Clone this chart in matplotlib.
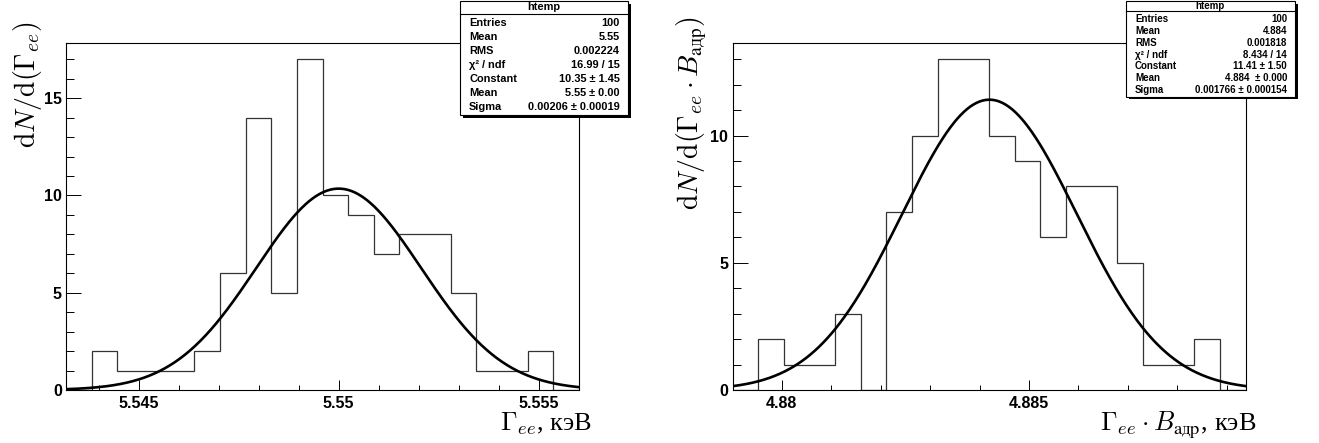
import numpy as np
import matplotlib.pyplot as plt
from matplotlib.patches import Rectangle
from matplotlib.lines import Line2D
from matplotlib.ticker import MultipleLocator

plt.rcParams['mathtext.fontset'] = 'cm'
plt.rcParams['font.family'] = ['Liberation Sans', 'DejaVu Sans']

W, H = 1319, 443

# left: Gamma_ee histogram (20 bins) + gauss fit
gee_range = (5.54318, 5.55601)
gee_counts = [0, 2, 1, 1, 1, 2, 6, 14, 5, 17, 10, 9, 7, 8, 8, 5, 1, 1, 2, 0]
gee_fit = (10.35, 5.5500, 0.00206)  # constant, mean, sigma
gee_ticks = [5.545, 5.55, 5.555]
gee_ticklabels = ['5.545', '5.55', '5.555']
gee_stats = [('Entries', '100'), ('Mean', '5.55'), ('RMS', '0.002224'),
             ('χ² / ndf', '16.99 / 15'), ('Constant', '10.35 ± 1.45'),
             ('Mean', '5.55 ± 0.00'), ('Sigma', '0.00206 ± 0.00019')]

# right: Gamma_ee * B_had
gb_range = (4.879003, 4.889379)
gb_counts = [0, 2, 1, 1, 3, 0, 7, 10, 13, 13, 10, 9, 6, 8, 8, 5, 1, 1, 2, 0]
gb_fit = (11.41, 4.8842, 0.001766)
gb_ticks = [4.88, 4.885]
gb_ticklabels = ['4.88', '4.885']
gb_stats = [('Entries', '100'), ('Mean', '4.884'), ('RMS', '0.001818'),
            ('χ² / ndf', '8.434 / 14'), ('Constant', '11.41 ± 1.50'),
            ('Mean', '4.884  ± 0.000'), ('Sigma', '0.001766 ± 0.000154')]

fig = plt.figure(figsize=(W / 100, H / 100), dpi=100)


def panel(left_px, rng, counts, fit, ticks, ticklabels):
    ax = fig.add_axes([left_px / W, 53 / H, 513 / W, 347.3 / H])
    edges = np.linspace(rng[0], rng[1], len(counts) + 1)
    ax.stairs(counts, edges, baseline=0, color='#333333', lw=0.9)
    x = np.linspace(rng[0], rng[1], 500)
    a, mu, s = fit
    ax.plot(x, a * np.exp(-0.5 * ((x - mu) / s) ** 2), color='black', lw=1.9)
    ax.set_xlim(rng)
    ax.set_ylim(0, 1.05 * max(counts))
    ax.set_xticks(ticks, ticklabels)
    ax.xaxis.set_minor_locator(MultipleLocator(0.001))
    ax.yaxis.set_major_locator(MultipleLocator(5))
    ax.yaxis.set_minor_locator(MultipleLocator(1))
    ax.tick_params(axis='y', which='major', direction='in', length=11, width=0.7, pad=3)
    ax.tick_params(axis='y', which='minor', direction='in', length=5.5, width=0.7)
    ax.tick_params(axis='x', which='major', direction='in', length=7.5, width=0.7, pad=4)
    ax.tick_params(axis='x', which='minor', direction='in', length=3.7, width=0.7)
    ax.tick_params(top=False, right=False, which='both')
    for lbl in ax.get_xticklabels() + ax.get_yticklabels():
        lbl.set_fontsize(11.5)
        lbl.set_fontweight('bold')
    for sp in ax.spines.values():
        sp.set_linewidth(0.8)
    return ax


def stat_box(x0, x1, y1, title_b, stats, size):
    y0 = 1
    fig.add_artist(Rectangle(((x0 + 2.5) / W, 1 - (y1 + 2.5) / H), (x1 - x0) / W, (y1 - y0) / H,
                             transform=fig.transFigure, facecolor='black', edgecolor='none'))
    fig.add_artist(Rectangle((x0 / W, 1 - y1 / H), (x1 - x0) / W, (y1 - y0) / H,
                             transform=fig.transFigure, facecolor='white', edgecolor='black', lw=0.8))
    fig.add_artist(Line2D([x0 / W, x1 / W], [1 - title_b / H] * 2, color='black', lw=0.8))
    fig.text((x0 + x1) / 2 / W, 1 - (y0 + title_b) / 2 / H, 'htemp', ha='center', va='center',
             fontsize=size, fontweight='bold')
    rh = (y1 - title_b - 2.5) / len(stats)
    for i, (k, v) in enumerate(stats):
        yc = 1 - (title_b + 2 + (i + 0.5) * rh) / H
        fig.text((x0 + 9) / W, yc, k, ha='left', va='center', fontsize=size, fontweight='bold')
        fig.text((x1 - 8) / W, yc, v, ha='right', va='center', fontsize=size, fontweight='bold')


ax1 = panel(66, gee_range, gee_counts, gee_fit, gee_ticks, gee_ticklabels)
ax2 = panel(732.5, gb_range, gb_counts, gb_fit, gb_ticks, gb_ticklabels)

tfont = ['Liberation Serif', 'DejaVu Serif']
fig.text(28 / W, 1 - 22 / H, r'$\mathrm{d}N/\mathrm{d}(\Gamma_{ee})$', rotation=90,
         ha='center', va='top', fontsize=20, family=tfont)
fig.text(692 / W, 1 - 16 / H, r'$\mathrm{d}N/\mathrm{d}(\Gamma_{ee}\cdot B_{\mathrm{адр}})$',
         rotation=90, ha='center', va='top', fontsize=20, family=tfont)
fig.text(592 / W, 12 / H, r'$\Gamma_{ee}$, кэВ', ha='right', va='baseline', fontsize=19, family=tfont)
fig.text(1256 / W, 12 / H, r'$\Gamma_{ee}\cdot B_{\mathrm{адр}}$, кэВ', ha='right', va='baseline',
         fontsize=19, family=tfont)

stat_box(460, 628, 115, 13.5, gee_stats, 7.9)
stat_box(1126, 1295, 96.5, 11, gb_stats, 7.0)

fig.savefig('out.png', dpi=100, facecolor='white')
